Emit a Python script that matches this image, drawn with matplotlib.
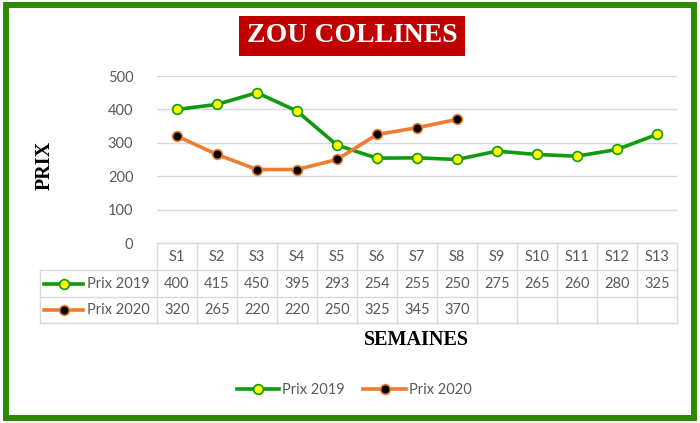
import matplotlib
matplotlib.use("Agg")
import matplotlib.pyplot as plt
from matplotlib.lines import Line2D
from matplotlib.patches import Rectangle
import matplotlib.transforms as mtransforms

weeks = ["S1", "S2", "S3", "S4", "S5", "S6", "S7", "S8", "S9", "S10", "S11", "S12", "S13"]
prix_2019 = [400, 415, 450, 395, 293, 254, 255, 250, 275, 265, 260, 280, 325]
prix_2020 = [320, 265, 220, 220, 250, 325, 345, 370]
y_ticks = [0, 100, 200, 300, 400, 500]

GREEN = "#0f9a0f"
ORANGE = "#ed7d31"
GRAY = "#595959"
GRID = "#d9d9d9"
FONT = "Lato"
SERIF = "Liberation Serif"

W, H = 700, 423
fig = plt.figure(figsize=(W / 100, H / 100), dpi=100)

# plot area in pixels (left, top, right, bottom)
px_l, px_t, px_r, px_b = 157, 76, 677, 243
ax = fig.add_axes([px_l / W, 1 - px_b / H, (px_r - px_l) / W, (px_b - px_t) / H])

x = list(range(len(weeks)))
ax.plot(x, prix_2019, color=GREEN, linewidth=2.6, marker="o", markersize=7,
        markerfacecolor="#ffff00", markeredgecolor=GREEN, markeredgewidth=1.2, zorder=3)
ax.plot(x[:len(prix_2020)], prix_2020, color=ORANGE, linewidth=2.6, marker="o", markersize=7,
        markerfacecolor="black", markeredgecolor=ORANGE, markeredgewidth=1.2, zorder=3)

ax.set_xlim(-0.5, len(weeks) - 0.5)
ax.set_ylim(0, 500)
ax.set_yticks(y_ticks)
ax.set_xticks([])
ax.tick_params(axis="y", length=0, pad=17, labelcolor=GRAY, labelsize=10.5)
for lab in ax.get_yticklabels():
    lab.set_fontfamily(FONT)
ax.grid(True, axis="y", color=GRID, linewidth=1)
ax.set_axisbelow(True)
for s in ax.spines.values():
    s.set_visible(False)

# y axis title
fig.text(45 / W, 1 - 165 / H, "PRIX", rotation=90, ha="center", va="center",
         fontfamily=SERIF, fontweight="bold", fontsize=14.5)

# data table under the axis
row_px = 27
ah = px_b - px_t
trans = mtransforms.blended_transform_factory(ax.transData, ax.transAxes)
rows_y = [0, -row_px / ah, -2 * row_px / ah, -3 * row_px / ah + 0.005]
x_left = -0.5 - (px_l - 40) / 40.0
x_right = len(weeks) - 0.5
line_kw = dict(color=GRID, linewidth=1, transform=trans, clip_on=False)

ax.add_line(Line2D([-0.5, x_right], [rows_y[0]] * 2, **line_kw))
for yy in rows_y[1:]:
    ax.add_line(Line2D([x_left, x_right], [yy] * 2, **line_kw))
for i in range(len(weeks) + 1):
    ax.add_line(Line2D([i - 0.5] * 2, [rows_y[0], rows_y[3]], **line_kw))
ax.add_line(Line2D([x_left] * 2, [rows_y[1], rows_y[3]], **line_kw))

txt_kw = dict(transform=trans, ha="center", va="center", color=GRAY, fontsize=10.5,
              fontfamily=FONT, clip_on=False)
for i, w in enumerate(weeks):
    ax.text(i, (rows_y[0] + rows_y[1]) / 2, w, **txt_kw)
for i, v in enumerate(prix_2019):
    ax.text(i, (rows_y[1] + rows_y[2]) / 2, str(v), **txt_kw)
for i, v in enumerate(prix_2020):
    ax.text(i, (rows_y[2] + rows_y[3]) / 2, str(v), **txt_kw)

series = [("Prix 2019", GREEN, "#ffff00"), ("Prix 2020", ORANGE, "black")]
key_x0 = x_left + 4 / 40.0
key_x1 = x_left + 43 / 40.0
for r, (name, col, fill) in enumerate(series):
    yc = (rows_y[r + 1] + rows_y[r + 2]) / 2
    ax.add_line(Line2D([key_x0, key_x1], [yc, yc], color=col, linewidth=2.6,
                       transform=trans, clip_on=False))
    ax.add_line(Line2D([(key_x0 + key_x1) / 2], [yc], marker="o", markersize=7,
                       markerfacecolor=fill, markeredgecolor=col, markeredgewidth=1.2,
                       transform=trans, clip_on=False))
    ax.text(key_x1 + 4 / 40.0, yc, name, transform=trans, ha="left", va="center",
            color=GRAY, fontsize=10.5, fontfamily=FONT, clip_on=False)

# axis title below the table
fig.text(416 / W, 1 - 340 / H, "SEMAINES", ha="center", va="center",
         fontfamily=SERIF, fontweight="bold", fontsize=14.5)

# chart title
fig.text(352 / W, 1 - 36 / H, "ZOU COLLINES", ha="center", va="center", color="white",
         fontfamily=SERIF, fontweight="bold", fontsize=20,
         bbox=dict(boxstyle="square,pad=0.28", facecolor="#c00000", edgecolor="none"))

# bottom legend
handles = [
    Line2D([], [], color=GREEN, linewidth=2.6, marker="o", markersize=7,
           markerfacecolor="#ffff00", markeredgecolor=GREEN, markeredgewidth=1.2),
    Line2D([], [], color=ORANGE, linewidth=2.6, marker="o", markersize=7,
           markerfacecolor="black", markeredgecolor=ORANGE, markeredgewidth=1.2),
]
leg = fig.legend(handles, ["Prix 2019", "Prix 2020"], loc="center", ncol=2,
                 bbox_to_anchor=(354 / W, 1 - 390 / H), frameon=False, handlelength=2.9,
                 handletextpad=0.2, columnspacing=1.3,
                 prop={"family": FONT, "size": 10.5})
for t in leg.get_texts():
    t.set_color(GRAY)

# green frame around the chart
fig.patches.append(Rectangle((6 / W, 5 / H), 1 - 12 / W, 1 - 10 / H, transform=fig.transFigure,
                             fill=False, edgecolor="#2b8a00", linewidth=4.3))

fig.savefig("out.png", dpi=100)
